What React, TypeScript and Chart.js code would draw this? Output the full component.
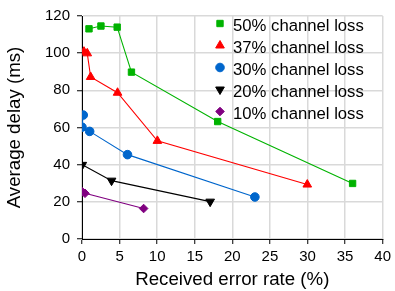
import React, { useEffect, useRef } from "react";
import { Chart, registerables } from "chart.js";
import { drawPoint } from "chart.js/helpers";

Chart.register(...registerables);

const loss50X = [0.93, 2.52, 4.68, 6.58, 18.05, 36.0];
const loss50Y = [113.1, 114.6, 114.0, 89.8, 63.2, 29.9];
const loss37X = [0.26, 0.7, 1.15, 4.73, 10.03, 29.97];
const loss37Y = [100.8, 99.9, 87.2, 78.7, 52.8, 29.3];
const loss30X = [0.17, 0, 1.02, 6.05, 23.0];
const loss30Y = [66.7, 60.2, 57.9, 45.4, 22.6];
const loss20X = [0.04, 3.93, 17.05];
const loss20Y = [39.9, 31.4, 20.1];
const loss10X = [0.04, 0.4, 8.2];
const loss10Y = [25.4, 24.6, 16.4];

const seriesLabels = ["50% channel loss", "37% channel loss", "30% channel loss", "20% channel loss", "10% channel loss"];
const xTicksMax = 40;
const yTicksMax = 120;

const pts = (xs: number[], ys: number[]) => xs.map((x, i) => ({ x, y: ys[i] }));

const FONT = "'Liberation Sans', Arial, sans-serif";

const legendPlugin = {
  id: "insideLegend",
  afterDatasetsDraw(chart: any) {
    const ctx = chart.ctx;
    const x0 = 220;
    const y0 = 23.5;
    const step = 22;
    ctx.save();
    chart.data.datasets.forEach((ds: any, i: number) => {
      const y = y0 + i * step;
      ctx.fillStyle = ds.backgroundColor;
      ctx.strokeStyle = ds.borderColor;
      ctx.lineWidth = 1;
      drawPoint(ctx, { pointStyle: ds.pointStyle, rotation: ds.pointRotation || 0, radius: ds.pointRadius, borderWidth: 1 }, x0, y);
      ctx.fillStyle = "#000";
      ctx.font = `16.7px ${FONT}`;
      ctx.textBaseline = "middle";
      ctx.textAlign = "left";
      ctx.fillText(ds.label, x0 + 13, y + 3);
    });
    ctx.restore();
  },
};

export default function App() {
  const ref = useRef<HTMLCanvasElement>(null);
  useEffect(() => {
    document.body.style.margin = "0";
    const mk = (label: string, data: any[], color: string, style: string, radius: number, rot = 0) => ({
      label,
      data,
      borderColor: color,
      backgroundColor: color,
      pointStyle: style,
      pointRadius: radius,
      pointRotation: rot,
      pointBorderWidth: 1,
      borderWidth: 1.1,
      showLine: true,
    });
    const chart = new Chart(ref.current!, {
      type: "scatter",
      data: {
        datasets: [
          mk(seriesLabels[0], pts(loss50X, loss50Y), "#00b300", "rect", 4.5),
          mk(seriesLabels[1], pts(loss37X, loss37Y), "#ff0000", "triangle", 5),
          mk(seriesLabels[2], pts(loss30X, loss30Y), "#0066cc", "circle", 4.3),
          mk(seriesLabels[3], pts(loss20X, loss20Y), "#000000", "triangle", 5, 180),
          mk(seriesLabels[4], pts(loss10X, loss10Y), "#800080", "rectRot", 4.3),
        ] as any,
      },
      options: {
        animation: false,
        responsive: false,
        layout: { padding: { top: 12, right: 12, left: 0, bottom: 0 } },
        plugins: { legend: { display: false }, tooltip: { enabled: false } },
        scales: {
          x: {
            type: "linear",
            min: 0,
            max: xTicksMax,
            ticks: { stepSize: 5, color: "#000", font: { family: FONT, size: 15 }, padding: 4 },
            grid: { color: "#d9d9d9", lineWidth: 1.5, tickColor: "#000", tickLength: 5, tickWidth: 1 },
            border: { color: "#000", width: 1 },
            title: { display: true, text: "Received error rate (%)", color: "#000", font: { family: FONT, size: 18.7 }, padding: { top: 2, bottom: 0 } },
            afterFit: (s: any) => { s.height = 52; },
          },
          y: {
            type: "linear",
            min: 0,
            max: yTicksMax,
            ticks: { stepSize: 20, color: "#000", font: { family: FONT, size: 15 }, padding: 7 },
            grid: { color: "#d9d9d9", lineWidth: 1.5, tickColor: "#000", tickLength: 5, tickWidth: 1 },
            border: { color: "#000", width: 1 },
            title: { display: true, text: "Average delay (ms)", color: "#000", font: { family: FONT, size: 18.7 }, padding: { top: 4, bottom: 0 } },
            afterFit: (s: any) => { s.width = 82; },
          },
        },
      } as any,
      plugins: [legendPlugin],
    });
    return () => chart.destroy();
  }, []);
  return (
    <div style={{ position: "fixed", left: 0, top: 0, width: 395, height: 291 }}>
      <canvas ref={ref} width={395} height={291} style={{ width: 395, height: 291 }} />
    </div>
  );
}
